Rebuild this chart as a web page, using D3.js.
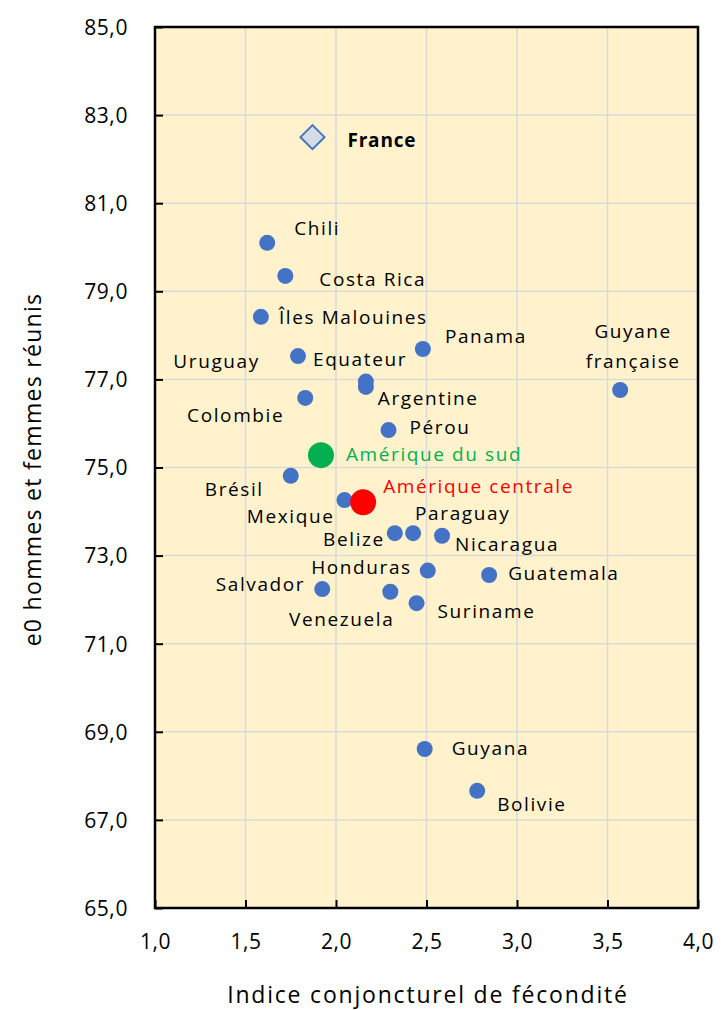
<!DOCTYPE html>
<html>
<head>
<meta charset="utf-8">
<script src="https://cdn.jsdelivr.net/npm/d3@7"></script>
<style>
  body { margin: 0; background: #fff; }
  text { font-family: "Open Sans", "Noto Sans", sans-serif; }
</style>
</head>
<body>
<svg width="721" height="1010"></svg>
<script>
// pays / ICF / e0
var countries = ["Chili", "Costa Rica", "Îles Malouines", "Equateur", "Panama", "Uruguay", "Argentine",
  "Colombie", "Guyane française", "Pérou", "Brésil", "Mexique", "Belize", "Paraguay", "Nicaragua",
  "Honduras", "Guatemala", "Salvador", "Venezuela", "Suriname", "Guyana", "Bolivie"];
var fertility = [1.62, 1.72, 1.585, 1.79, 2.48, 2.165, 2.165, 1.83, 3.57, 2.29, 1.75, 2.047, 2.325, 2.426, 2.586,
  2.507, 2.846, 1.924, 2.30, 2.445, 2.49, 2.78];
var lifeExp = [80.1, 79.35, 78.42, 77.53, 77.69, 76.95, 76.83, 76.58, 76.76, 75.85, 74.81, 74.26, 73.51, 73.51, 73.45,
  72.66, 72.56, 72.24, 72.18, 71.92, 68.61, 67.66];

var regions = ["Amérique du sud", "Amérique centrale"];
var regionFertility = [1.917, 2.15];
var regionLifeExp = [75.28, 74.21];

var franceFertility = 1.87;
var franceLifeExp = 82.5;

var xTicks = [1.0, 1.5, 2.0, 2.5, 3.0, 3.5, 4.0];
var yTicks = [65, 67, 69, 71, 73, 75, 77, 79, 81, 83, 85];

// label placement (dx, dy, anchor)
var labelPos = {
  "Chili": [27, -14, "start"], "Costa Rica": [34, 3, "start"], "Îles Malouines": [18, 1, "start"],
  "Equateur": [15, 3, "start"], "Panama": [22, -13, "start"], "Uruguay": [-106, -20, "end"],
  "Argentine": [12, 11, "start"], "Colombie": [-21, 17, "end"], "Pérou": [21, -3, "start"],
  "Brésil": [-27, 13, "end"], "Mexique": [-10, 16, "end"], "Belize": [-10, 6, "end"],
  "Paraguay": [2, -20, "start"], "Nicaragua": [13, 9, "start"], "Honduras": [-16, -3, "end"],
  "Guatemala": [19, -2, "start"], "Salvador": [-17, -5, "end"], "Venezuela": [4, 28, "end"],
  "Suriname": [21, 8, "start"], "Guyana": [27, -1, "start"], "Bolivie": [20, 14, "start"]
};

var svg = d3.select("svg"),
    margin = {top: 27, right: 23, bottom: 102, left: 155},
    width = +svg.attr("width") - margin.left - margin.right,
    height = +svg.attr("height") - margin.top - margin.bottom,
    g = svg.append("g").attr("transform", "translate(" + margin.left + "," + margin.top + ")");

var x = d3.scaleLinear().domain([1, 4]).range([0, width]);
var y = d3.scaleLinear().domain([65, 85]).range([height, 0]);
var fmt = function(d) { return d3.format(".1f")(d).replace(".", ","); };

g.append("rect").attr("width", width).attr("height", height).attr("fill", "#FFF2CC");

// grid
g.selectAll(".vgrid").data(xTicks.slice(1, -1)).enter().append("line")
    .attr("x1", function(d) { return x(d); }).attr("x2", function(d) { return x(d); })
    .attr("y1", 0).attr("y2", height)
    .attr("stroke", "#D9D9D9").attr("stroke-width", 1.5);
g.selectAll(".hgrid").data(yTicks.slice(1, -1)).enter().append("line")
    .attr("y1", function(d) { return y(d); }).attr("y2", function(d) { return y(d); })
    .attr("x1", 0).attr("x2", width)
    .attr("stroke", "#D9D9D9").attr("stroke-width", 1.5);

// axes
var xAxis = g.append("g")
    .attr("transform", "translate(0," + height + ")")
    .call(d3.axisBottom(x).tickValues(xTicks).tickFormat(fmt).tickSizeInner(-8).tickSizeOuter(0).tickPadding(34));
var yAxis = g.append("g")
    .call(d3.axisLeft(y).tickValues(yTicks).tickFormat(fmt).tickSizeInner(-8).tickSizeOuter(0).tickPadding(27));
[xAxis, yAxis].forEach(function(a) {
  a.select(".domain").remove();
  a.selectAll("line").attr("stroke", "#000").attr("stroke-width", 2);
  a.selectAll("text").attr("font-size", "21px").attr("fill", "#000").attr("letter-spacing", "0.6px")
    .attr("font-family", "'Open Sans', sans-serif");
});
yAxis.selectAll("text").attr("dy", "0.35em");
xAxis.selectAll("text").attr("dy", "0.35em");

g.append("rect").attr("width", width).attr("height", height)
    .attr("fill", "none").attr("stroke", "#000").attr("stroke-width", 2.5);

// titles
svg.append("text")
    .attr("x", 428).attr("y", 995)
    .attr("text-anchor", "middle").attr("dy", "0.35em")
    .attr("font-size", "23px").attr("letter-spacing", "1.8px").attr("fill", "#000")
    .text("Indice conjoncturel de fécondité");
svg.append("text")
    .attr("transform", "translate(33," + (margin.top + height / 2 + 2) + ") rotate(-90)")
    .attr("text-anchor", "middle").attr("dy", "0.35em")
    .attr("font-size", "23px").attr("letter-spacing", "1.3px").attr("fill", "#000")
    .text("e0 hommes et femmes réunis");

// points
var pts = countries.map(function(c, i) { return {name: c, x: fertility[i], y: lifeExp[i]}; });
g.selectAll(".pt").data(pts).enter().append("circle")
    .attr("cx", function(d) { return x(d.x); })
    .attr("cy", function(d) { return y(d.y); })
    .attr("r", 8).attr("fill", "#4472C4");

var regionColors = ["#00B050", "#FF0000"];
var regionLabelPos = [[25, -1], [20, -16]];
regions.forEach(function(r, i) {
  g.append("circle")
      .attr("cx", x(regionFertility[i])).attr("cy", y(regionLifeExp[i]))
      .attr("r", 13).attr("fill", regionColors[i]);
  g.append("text")
      .attr("x", x(regionFertility[i]) + regionLabelPos[i][0])
      .attr("y", y(regionLifeExp[i]) + regionLabelPos[i][1])
      .attr("dy", "0.35em").attr("font-size", "19px").attr("letter-spacing", "1.6px")
      .attr("fill", regionColors[i])
      .text(r);
});

// France
var fx = x(franceFertility), fy = y(franceLifeExp);
g.append("path")
    .attr("d", "M" + fx + "," + (fy - 12) + "L" + (fx + 12) + "," + fy + "L" + fx + "," + (fy + 12) + "L" + (fx - 12) + "," + fy + "Z")
    .attr("fill", "#D6DCE5").attr("stroke", "#4472C4").attr("stroke-width", 2);
g.append("text").attr("x", fx + 35).attr("y", fy + 3).attr("dy", "0.35em")
    .attr("font-size", "19px").attr("font-weight", "bold").attr("letter-spacing", "0.8px").attr("fill", "#000")
    .text("France");

// labels
g.selectAll(".lbl").data(pts.filter(function(d) { return labelPos[d.name]; })).enter().append("text")
    .attr("x", function(d) { return x(d.x) + labelPos[d.name][0]; })
    .attr("y", function(d) { return y(d.y) + labelPos[d.name][1]; })
    .attr("text-anchor", function(d) { return labelPos[d.name][2]; })
    .attr("dy", "0.35em").attr("font-size", "19px").attr("letter-spacing", "1.6px").attr("fill", "#000")
    .text(function(d) { return d.name; });

// Guyane française on two lines
var gf = pts.filter(function(d) { return d.name == "Guyane française"; })[0];
var gt = g.append("text").attr("text-anchor", "middle").attr("font-size", "19px")
    .attr("letter-spacing", "1.6px").attr("fill", "#000");
gt.append("tspan").attr("x", x(gf.x) + 13).attr("y", y(gf.y) - 59).attr("dy", "0.35em").text("Guyane");
gt.append("tspan").attr("x", x(gf.x) + 13).attr("y", y(gf.y) - 29).attr("dy", "0.35em").text("française");
</script>
</body>
</html>
